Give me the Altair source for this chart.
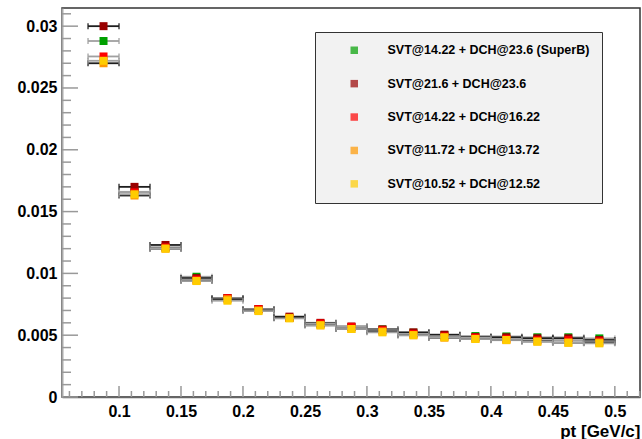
import altair as alt
import pandas as pd

# pt bin centres [GeV/c]; every bin is 0.025 wide
pt = [0.0875, 0.1125, 0.1375, 0.1625, 0.1875, 0.2125, 0.2375, 0.2625, 0.2875,
      0.3125, 0.3375, 0.3625, 0.3875, 0.4125, 0.4375, 0.4625, 0.4875]
bin_half = 0.0125

series_names = [
    "SVT@14.22 + DCH@23.6 (SuperB)",
    "SVT@21.6 + DCH@23.6",
    "SVT@14.22 + DCH@16.22",
    "SVT@11.72 + DCH@13.72",
    "SVT@10.52 + DCH@12.52",
]
marker_colors = ["#00a000", "#990000", "#ff0000", "#ff9900", "#ffcc00"]
errbar_colors = ["#a0a0a0", "#1e1e1e", "#a0a0a0", "#1e1e1e", "#a0a0a0"]

superb = [0.0288, 0.0166, 0.0121, 0.00973, 0.0080, 0.0071, 0.0064, 0.0059, 0.00565,
          0.00547, 0.0052, 0.00502, 0.00493, 0.0049, 0.00483, 0.00483, 0.00474]
svt216 = [0.0300, 0.0170, 0.0123, 0.00962, 0.0080, 0.00712, 0.0065, 0.0060, 0.0057,
          0.00547, 0.00523, 0.00504, 0.00485, 0.00483, 0.00475, 0.00475, 0.00461]
svt1422 = [0.02755, 0.01655, 0.0121, 0.0095, 0.0080, 0.00711, 0.0064, 0.00595, 0.00568,
           0.0054, 0.0051, 0.0049, 0.0048, 0.0047, 0.0046, 0.0046, 0.0045]
svt1172 = [0.0270, 0.0163, 0.0120, 0.0094, 0.0079, 0.0070, 0.0064, 0.0058, 0.0055,
           0.0053, 0.0050, 0.0048, 0.0047, 0.0046, 0.0045, 0.0044, 0.0044]
svt1052 = [0.0272, 0.0164, 0.0120, 0.00938, 0.00779, 0.00695, 0.00636, 0.0058, 0.0055,
           0.00523, 0.0050, 0.00483, 0.00469, 0.00461, 0.00447, 0.00439, 0.00434]
series_values = [superb, svt216, svt1422, svt1172, svt1052]

# axis tick positions
x_major = [0.1, 0.15, 0.2, 0.25, 0.3, 0.35, 0.4, 0.45, 0.5]
y_major = [0, 0.005, 0.01, 0.015, 0.02, 0.025, 0.03]
x_minor = [round(0.06 + 0.01 * i, 2) for i in range(47)]
x_minor = [v for v in x_minor if all(abs(v - m) > 1e-9 for m in x_major)]
y_minor = [round(0.001 * i, 3) for i in range(32)]
y_minor = [v for v in y_minor if all(abs(v - m) > 1e-9 for m in y_major)]

rows = []
for k, (name, vals) in enumerate(zip(series_names, series_values)):
    for p, v in zip(pt, vals):
        rows.append({"series": name, "order": k, "pt": p, "lo": p - bin_half,
                     "hi": p + bin_half, "val": v, "barcol": errbar_colors[k]})
df = pd.DataFrame(rows)

W, H = 578, 389
FONT = "Liberation Sans"

x_scale = alt.Scale(domain=[0.054, 0.5203], nice=False, zero=False)
y_scale = alt.Scale(domain=[0, 0.03147], nice=False, zero=False)

x_axis = alt.Axis(values=x_major, format="~g", ticks=False, tickSize=0, grid=False,
                  domainColor="#666666", domainWidth=1.5,
                  labelFont=FONT, labelFontSize=16, labelFontWeight="bold",
                  labelColor="#000000", labelPadding=6,
                  title="pt [GeV/c]", titleFont=FONT, titleFontSize=17,
                  titleFontWeight="bold", titleColor="#000000",
                  titleAnchor="end", titleAlign="right", titleBaseline="alphabetic",
                  titleX=W, titleY=39)
y_axis = alt.Axis(values=y_major, format="~g", ticks=False, tickSize=0, grid=False,
                  domainColor="#aaaaaa", domainWidth=2,
                  labelFont=FONT, labelFontSize=16, labelFontWeight="bold",
                  labelColor="#000000", labelPadding=5, title=None)


def xenc(field):
    return alt.X(field, scale=x_scale, axis=x_axis)


def yenc(field):
    return alt.Y(field, scale=y_scale, axis=y_axis)


# inward-pointing ticks
xt_major = pd.DataFrame({"v": x_major})
xt_minor = pd.DataFrame({"v": x_minor})
yt_major = pd.DataFrame({"v": y_major})
yt_minor = pd.DataFrame({"v": y_minor})

tick_style = dict(color="#999999", strokeWidth=1.5)
layers = [
    alt.Chart(xt_major).mark_rule(**tick_style).encode(
        x=xenc("v:Q"), y=alt.value(H), y2=alt.value(H - 11)),
    alt.Chart(xt_minor).mark_rule(**tick_style).encode(
        x=xenc("v:Q"), y=alt.value(H), y2=alt.value(H - 6)),
    alt.Chart(yt_major).mark_rule(**tick_style).encode(
        y=yenc("v:Q"), x=alt.value(0), x2=alt.value(16)),
    alt.Chart(yt_minor).mark_rule(**tick_style).encode(
        y=yenc("v:Q"), x=alt.value(0), x2=alt.value(9)),
]

legend = alt.Legend(
    orient="none", legendX=253, legendY=24, title=None,
    fillColor="#f2f2f2", strokeColor="#333333", padding=12,
    symbolType="square", symbolSize=56, symbolStrokeWidth=0, symbolOffset=21,
    symbolOpacity=1,
    labelFont=FONT, labelFontSize=12.5, labelFontWeight="bold", labelColor="#000000",
    labelOffset=27, labelLimit=400, rowPadding=20.4,
)

for k, name in enumerate(series_names):
    sub = df[df["series"] == name]
    bars = alt.Chart(sub).mark_errorbar(ticks=True, size=6, thickness=1.8).encode(
        x=xenc("lo:Q"),
        x2="hi:Q",
        y=yenc("val:Q"),
        color=alt.Color("barcol:N", scale=None),
    )
    marks = alt.Chart(sub).mark_square(size=64, opacity=1, fillOpacity=1,
                                       strokeWidth=0).encode(
        x=xenc("pt:Q"),
        y=yenc("val:Q"),
        color=alt.Color("series:N",
                        scale=alt.Scale(domain=series_names, range=marker_colors),
                        legend=legend),
    )
    layers += [bars, marks]

chart = alt.layer(*layers).properties(
    width=W, height=H,
    autosize=alt.AutoSizeParams(type="none"),
    padding={"left": 62, "top": 8, "right": 2, "bottom": 42},
    background="#ffffff",
).configure_view(
    stroke="#333333", strokeWidth=1.5
).configure_square(opacity=1, fillOpacity=1)

chart.save("out.html", embed_options={"renderer": "svg", "actions": False})
